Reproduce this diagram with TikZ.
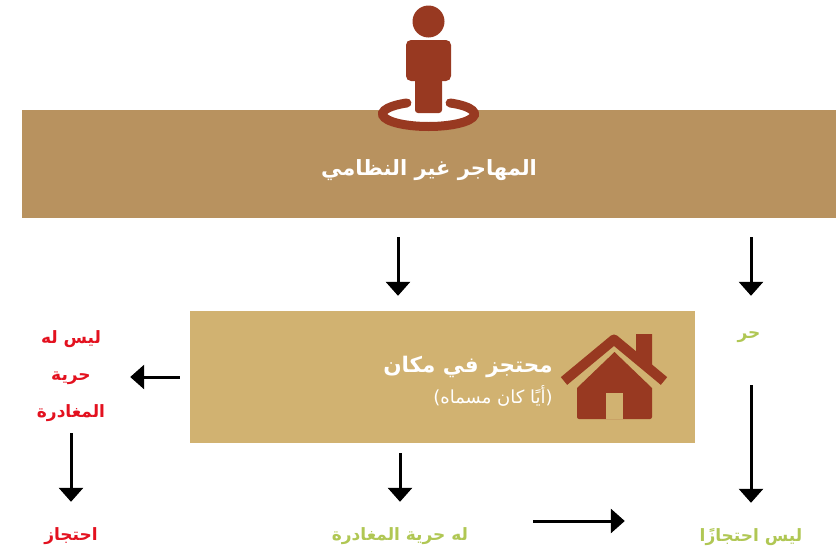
\documentclass[tikz,border=0pt]{standalone}
\usepackage{fontspec}
\usetikzlibrary{arrows.meta}
\TeXXeTstate=1
\newfontfamily\arabicfont[Script=Arabic]{DejaVu Sans}
\definecolor{bannertan}{HTML}{B8925F}
\definecolor{boxtan}{HTML}{D1B271}
\definecolor{iconbrown}{HTML}{983921}
\definecolor{stopred}{HTML}{E3111F}
\definecolor{okgreen}{HTML}{B0C754}
\tikzset{
  panel/.style={inner sep=0pt},
  lbl/.style={inner sep=0pt,text height=13pt,text depth=7pt,font=\arabicfont\bfseries\fontsize{17}{20}\selectfont},
  flow/.style={line width=3pt,-{Triangle[width=24pt,length=14pt]}},
}
\begin{document}
\begin{tikzpicture}[x=1pt,y=-1pt]
\useasboundingbox (0,0) rectangle (836,549);
\node[panel,fill=bannertan,minimum width=814pt,minimum height=108pt] (banner) at (429,164) {};
\node[panel,fill=boxtan,minimum width=505pt,minimum height=132pt] (box) at (442.5,377) {};
% person on the ring
\fill[white] (428.5,114) ellipse (46 and 12.5);
\draw[iconbrown,line width=9pt,line cap=round] (428.5,114) ++(-62:46 and 12.5) arc[start angle=-62,end angle=242,x radius=46,y radius=12.5];
\fill[iconbrown] (428.5,21.5) circle (16);
\fill[iconbrown,rounded corners=5pt] (406,40) rectangle (451,81);
\fill[iconbrown,rounded corners=3pt] (415,70) rectangle (442,113);
% house
\fill[iconbrown] (636,334) -- (652,334) -- (652,368) -- (636,354) -- cycle;
\draw[iconbrown,line width=10pt,line join=round] (564,381) -- (614,339.5) -- (664,381);
\fill[iconbrown] (577,388) -- (614.5,352) -- (652,388) [rounded corners=2pt] -- (652,419) -- (577,419) [sharp corners] -- cycle;
\fill[boxtan] (606,393) rectangle (623,419);
% texts
\node[lbl,text=white,font=\arabicfont\bfseries\fontsize{21}{28}\selectfont] (migrant) at (429,172) {\beginR المهاجر غير النظامي\endR};
\node[lbl,text=white,font=\arabicfont\bfseries\fontsize{21.5}{28}\selectfont] (held) at (468,369) {\beginR محتجز في مكان\endR};
\node[lbl,text=white,font=\arabicfont\fontsize{18}{20}\selectfont] (anyname) at (493,400) {\beginR(أيًا كان مسماه)\endR};
\node[lbl,text=okgreen,minimum width=30pt] (free) at (749,335) {\beginR حر\endR};
\node[inner sep=0pt,text=stopred,minimum width=90pt,minimum height=94pt,align=center,font=\arabicfont\bfseries\fontsize{17}{37}\selectfont] (noleave) at (71,376) {\beginR ليس له\endR\\\beginR حرية\endR\\\beginR المغادرة\endR};
\node[lbl,text=stopred,minimum width=70pt] (detention) at (71,537) {\beginR احتجاز\endR};
\node[lbl,text=okgreen,minimum width=150pt] (canleave) at (400,537) {\beginR له حرية المغادرة\endR};
\node[lbl,text=okgreen,minimum width=110pt] (nodetention) at (751,538) {\beginR ليس احتجازًا\endR};
% arrows
\draw[flow,shorten <=19pt,shorten >=15pt] ([xshift=-44.5pt]banner.south -| box.north) -- ([xshift=-44.5pt]box.north);
\draw[flow,shorten <=19pt,shorten >=29pt] (nodetention.north |- banner.south) -- (nodetention.north |- free.north);
\draw[flow,shorten <=40pt,shorten >=25pt] (nodetention.north |- free.south) -- (nodetention.north);
\draw[flow,shorten <=10pt,shorten >=14pt] (box.west) -- (box.west -| noleave.east);
\draw[flow,shorten <=10pt,shorten >=25pt] (noleave.south) -- (detention.north);
\draw[flow,shorten <=10pt,shorten >=25pt] (canleave.north |- box.south) -- (canleave.north);
\draw[flow,shorten <=58pt,shorten >=71pt] ([yshift=16pt]canleave.east) -- ([yshift=16pt]canleave.east -| nodetention.west);
\end{tikzpicture}
\end{document}
